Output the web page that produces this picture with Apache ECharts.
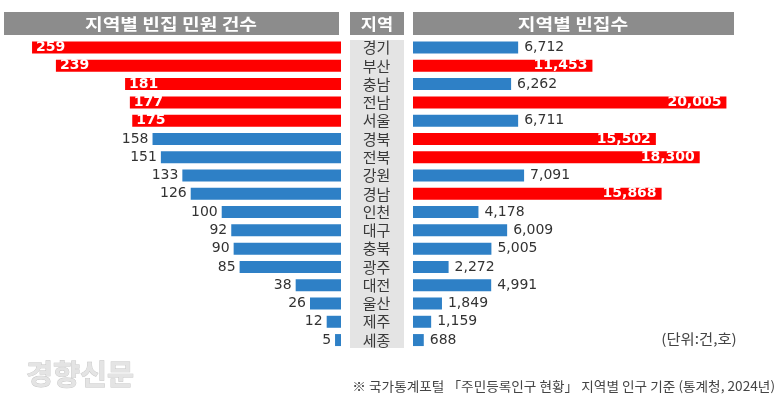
<!DOCTYPE html>
<html><head><meta charset="utf-8">
<script src="https://cdn.jsdelivr.net/npm/echarts@6/dist/echarts.min.js"></script>
<style>html,body{margin:0;padding:0;background:#fff}#c{width:780px;height:410px}</style>
</head><body><div id="c"></div>
<script>
const regions = ['경기','부산','충남','전남','서울','경북','전북','강원','경남','인천','대구','충북','광주','대전','울산','제주','세종'];
const complaints = [259,239,181,177,175,158,151,133,126,100,92,90,85,38,26,12,5];
const vacantHouses = [6712,11453,6262,20005,6711,15502,18300,7091,15868,4178,6009,5005,2272,4991,1849,1159,688];
const leftTitle = '지역별 빈집 민원 건수';
const midTitle = '지역';
const rightTitle = '지역별 빈집수';
const unitNote = '(단위:건,호)';
const sourceNote = '※ 국가통계포털 「주민등록인구 현황」 지역별 인구 기준 (통계청, 2024년)';
const brand = '경향신문';

const RED = '#fe0000', BLUE = '#2e80c6';
const numFont = 'DejaVu Sans';
const krFont = 'Noto Sans CJK KR';
const fmt = v => String(v).replace(/\B(?=(\d{3})+(?!\d))/g, ',');

const leftData = complaints.map((v, i) => {
  const hi = i < 5;
  return {
    value: v,
    itemStyle: { color: hi ? RED : BLUE },
    label: hi
      ? { show: true, position: 'insideLeft', distance: 4, color: '#fff', fontWeight: 'bold', fontSize: 14, fontFamily: numFont }
      : { show: true, position: 'left', distance: 4, color: '#333', fontSize: 14, fontFamily: numFont }
  };
});
const rightData = vacantHouses.map(v => {
  const hi = v > 10000;
  return {
    value: v,
    itemStyle: { color: hi ? RED : BLUE },
    label: hi
      ? { show: true, position: 'insideRight', distance: 5, color: '#fff', fontWeight: 'bold', fontSize: 14, fontFamily: numFont, formatter: p => fmt(p.value) }
      : { show: true, position: 'right', distance: 6, color: '#333', fontSize: 14, fontFamily: numFont, formatter: p => fmt(p.value) }
  };
});

const chart = echarts.init(document.getElementById('c'), null, { renderer: 'canvas' });
const hideAxis = { axisLine: { show: false }, axisTick: { show: false }, splitLine: { show: false } };
chart.setOption({
  animation: false,
  grid: [
    { left: 7, width: 334, top: 38.4, height: 310.8 },
    { left: 413, width: 329, top: 38.4, height: 310.8 }
  ],
  xAxis: [
    Object.assign({ type: 'value', gridIndex: 0, min: 0, max: 280, inverse: true, axisLabel: { show: false } }, hideAxis),
    Object.assign({ type: 'value', gridIndex: 1, min: 0, max: 21000, axisLabel: { show: false } }, hideAxis)
  ],
  yAxis: [
    Object.assign({ type: 'category', gridIndex: 0, data: regions, inverse: true, axisLabel: { show: false } }, hideAxis),
    Object.assign({ type: 'category', gridIndex: 1, data: regions, inverse: true, z: 5,
      axisLabel: { show: true, interval: 0, margin: 36.5, align: 'center', fontSize: 15, color: '#3a3a3a', fontFamily: krFont } }, hideAxis)
  ],
  series: [
    { type: 'bar', xAxisIndex: 0, yAxisIndex: 0, data: leftData, barWidth: 12 },
    { type: 'bar', xAxisIndex: 1, yAxisIndex: 1, data: rightData, barWidth: 12 }
  ],
  graphic: [
    { type: 'rect', z: -10, shape: { x: 4, y: 12, width: 335, height: 23 }, style: { fill: '#8c8c8c' } },
    { type: 'rect', z: -10, shape: { x: 350, y: 12, width: 54, height: 23 }, style: { fill: '#8c8c8c' } },
    { type: 'rect', z: -10, shape: { x: 413, y: 12, width: 321, height: 23 }, style: { fill: '#8c8c8c' } },
    { type: 'rect', z: -10, shape: { x: 350, y: 40, width: 54, height: 308 }, style: { fill: '#e4e4e4' } },
    { type: 'text', x: 171, y: 24, scaleX: 1.2, style: { text: leftTitle, fill: '#fff', font: 'bold 16px "Noto Sans CJK KR"', align: 'center', verticalAlign: 'middle' } },
    { type: 'text', x: 377, y: 24, scaleX: 1.1, style: { text: midTitle, fill: '#fff', font: 'bold 16px "Noto Sans CJK KR"', align: 'center', verticalAlign: 'middle' } },
    { type: 'text', x: 573, y: 24, scaleX: 1.2, style: { text: rightTitle, fill: '#fff', font: 'bold 16px "Noto Sans CJK KR"', align: 'center', verticalAlign: 'middle' } },
    { type: 'text', x: 699, y: 339, scaleX: 1.1, style: { text: unitNote, fill: '#444', font: '14px "Noto Sans CJK KR"', align: 'center', verticalAlign: 'middle' } },
    { type: 'text', x: 775, y: 386, scaleX: 1.05, style: { text: sourceNote, fill: '#444', font: '13px "Noto Sans CJK KR"', align: 'right', verticalAlign: 'middle' } },
    { type: 'text', x: 80, y: 374, scaleX: 1.05, style: { text: brand, fill: '#e4e4e4', font: 'bold 28px "Noto Sans CJK KR"', align: 'center', verticalAlign: 'middle', stroke: '#c4c4c4', lineWidth: 0.8, shadowColor: 'rgba(0,0,0,0.2)', shadowBlur: 3 } }
  ]
});
</script></body></html>
